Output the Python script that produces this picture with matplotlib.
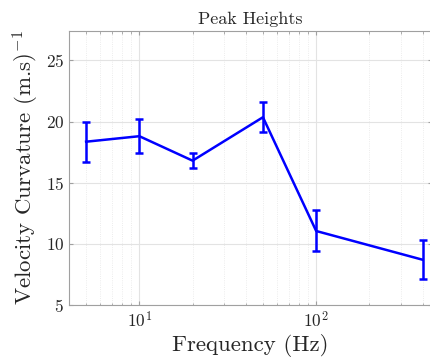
import numpy as np
import matplotlib
matplotlib.use('Agg')
import matplotlib.pyplot as plt
from matplotlib.ticker import LogLocator, NullFormatter

plt.rcParams['font.family'] = 'serif'
plt.rcParams['font.serif'] = ['cmr10']
plt.rcParams['mathtext.fontset'] = 'cm'
plt.rcParams['axes.formatter.use_mathtext'] = True

# data
freq = [5, 10, 20, 50, 100, 400]
peak = [18.35, 18.8, 16.8, 20.35, 11.05, 8.7]
upper = [20.0, 20.2, 17.4, 21.6, 12.75, 10.3]
lower = [16.7, 17.4, 16.2, 19.15, 9.45, 7.1]

err = [np.array(peak) - np.array(lower), np.array(upper) - np.array(peak)]

fig = plt.figure(figsize=(4.31, 3.62), dpi=100)
ax = fig.add_axes([69 / 431, 57 / 362, 363 / 431, 274 / 362])

ax.errorbar(freq, peak, yerr=err, color=(0, 0, 1), lw=1.8,
            elinewidth=1.8, capsize=3, capthick=1.8)

ax.set_xscale('log')
ax.set_xlim(4, 452)
ax.set_ylim(5, 27.4)
ax.set_yticks([5, 10, 15, 20, 25])
ax.xaxis.set_minor_locator(LogLocator(base=10, subs=np.arange(2, 10)))
ax.xaxis.set_minor_formatter(NullFormatter())

ax.grid(True, which='major', color='#e3e3e3', lw=0.8)
ax.grid(True, which='minor', axis='x', color='#e6e6e6', lw=0.6, ls=':')
ax.set_axisbelow(True)

for s in ax.spines.values():
    s.set_color('#a0a0a0')
    s.set_linewidth(0.8)
ax.tick_params(which='both', direction='in', colors='#a0a0a0', labelcolor='#262626',
               labelsize=12.5, top=True, right=True)
ax.tick_params(which='major', length=3)
ax.tick_params(which='minor', length=1.8)

ax.set_title('Peak Heights', fontsize=13, color='#262626', pad=5)
ax.set_xlabel('Frequency (Hz)', fontsize=16.5, color='#262626', labelpad=3)
ax.set_ylabel('Velocity Curvature (m.s)$^{-1}$', fontsize=16.5, color='#262626', labelpad=3)

fig.savefig('out.png', dpi=100)
